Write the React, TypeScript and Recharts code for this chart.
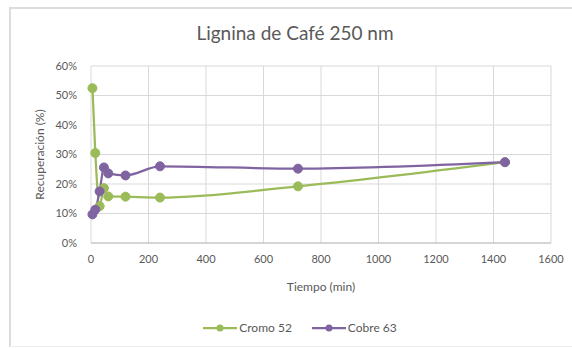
import React from 'react';
import { LineChart, Line, XAxis, YAxis, CartesianGrid } from 'recharts';

const tiempos = [5, 15, 30, 45, 60, 120, 240, 720, 1440];
const cromo52 = [0.525, 0.305, 0.125, 0.186, 0.158, 0.157, 0.154, 0.192, 0.274];
const cobre63 = [0.097, 0.113, 0.175, 0.256, 0.236, 0.229, 0.26, 0.252, 0.274];
const xTicks = [0, 200, 400, 600, 800, 1000, 1200, 1400, 1600];
const yTicks = [0, 0.1, 0.2, 0.3, 0.4, 0.5, 0.6];

const series = [
  { key: 'cromo', name: 'Cromo 52', color: '#9BBB59' },
  { key: 'cobre', name: 'Cobre 63', color: '#8064A2' },
];

const data = tiempos.map((t, i) => ({ t, cromo: cromo52[i], cobre: cobre63[i] }));

const font = 'Lato, "Open Sans", sans-serif';
const textColor = '#595959';

const App: React.FC = () => (
  <div style={{ position: 'absolute', left: 0, top: 0, width: 572, height: 348, overflow: 'hidden', background: '#fff', fontFamily: font }}>
    <div style={{ position: 'absolute', left: 9, top: 7, width: 600, height: 337, borderTop: '2px solid #dcdcdc', borderLeft: '2px solid #dcdcdc', borderBottom: '1px solid #f0f0f0' }} />
    <div style={{ position: 'absolute', left: 0, top: 21, width: 590, textAlign: 'center', fontSize: 19, color: textColor }}>
      Lignina de Café 250 nm
    </div>
    <div style={{ position: 'absolute', left: 0, top: 0 }}>
      <LineChart width={572} height={348} data={data} margin={{ top: 66, right: 21, bottom: 55, left: 31 }}>
        <CartesianGrid stroke="#d9d9d9" strokeWidth={1} />
        <XAxis
          dataKey="t"
          type="number"
          domain={[0, 1600]}
          ticks={xTicks}
          height={50}
          tick={{ fill: textColor, fontSize: 11, fontFamily: font }}
          tickLine={false}
          axisLine={{ stroke: '#bfbfbf' }}
          tickMargin={6}
          label={{ value: 'Tiempo (min)', position: 'insideBottom', offset: 2, fill: textColor, fontSize: 12, fontFamily: font }}
        />
        <YAxis
          type="number"
          domain={[0, 0.6]}
          ticks={yTicks}
          width={60}
          tickFormatter={(v: number) => `${Math.round(v * 100)}%`}
          tick={{ fill: textColor, fontSize: 11, fontFamily: font }}
          tickLine={false}
          axisLine={false}
          tickMargin={8}
          label={{ value: 'Recuperación (%)', angle: -90, position: 'insideLeft', offset: 9, fill: textColor, fontSize: 12, fontFamily: font, style: { textAnchor: 'middle' } }}
        />
        {series.map((s) => (
          <Line
            key={s.key}
            dataKey={s.key}
            name={s.name}
            type="monotone"
            stroke={s.color}
            strokeWidth={2.25}
            dot={{ r: 4.5, fill: s.color, stroke: s.color, strokeWidth: 1 }}
            isAnimationActive={false}
          />
        ))}
      </LineChart>
    </div>
    <div style={{ position: 'absolute', left: 0, top: 320, width: 600, display: 'flex', justifyContent: 'center', gap: 20, fontSize: 12, color: textColor }}>
      {series.map((s) => (
        <div key={s.key} style={{ display: 'flex', alignItems: 'center', gap: 2 }}>
          <svg width={34} height={10}>
            <line x1={0} y1={5} x2={34} y2={5} stroke={s.color} strokeWidth={2.25} />
            <circle cx={17} cy={5} r={3.5} fill={s.color} />
          </svg>
          <span>{s.name}</span>
        </div>
      ))}
    </div>
  </div>
);

export default App;
